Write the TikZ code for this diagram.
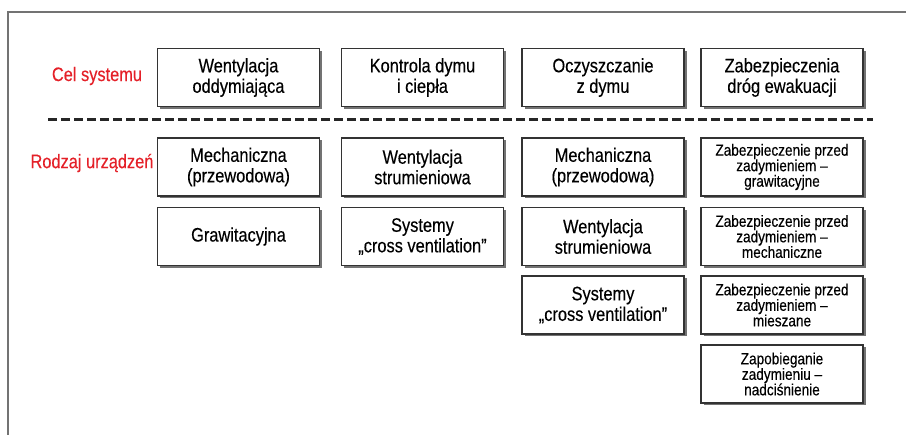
\documentclass[tikz,border=0pt]{standalone}
\usepackage{fontspec}
\setmainfont{Liberation Sans}[FakeStretch=0.84,FakeBold=0.3]
\usetikzlibrary{shadows}
\definecolor{labelred}{RGB}{228,32,40}
\tikzset{
	box/.style={draw=black!80, line width=1.4pt, fill=white, minimum width=162pt, minimum height=58pt,
		align=center, inner sep=2pt, font=\fontsize{19.5}{20.5}\selectfont,
		drop shadow={shadow xshift=2.5pt, shadow yshift=-2.5pt, fill=black!55, opacity=1}},
	smallbox/.style={box, font=\fontsize{16.2}{15.5}\selectfont},
	rowlabel/.style={text=labelred, font=\fontsize{19.5}{20.5}\selectfont},
	separator/.style={black!85, line width=3pt, dash pattern=on 9pt off 4pt}
}
\begin{document}
\begin{tikzpicture}[x=1pt,y=-1pt]
	\useasboundingbox (0,0) rectangle (906,435);

	\draw[black!55, line width=1.2pt] (8,435) |- (906,12);

	\node[rowlabel] (cel) at (97,76) {Cel systemu};
	\node[box] (went) at (238.5,77.5) {Wentylacja\\oddymiająca};
	\node[box] (kontr) at (422.5,77.5) {Kontrola dymu\\i ciepła};
	\node[box] (oczy) at (603,77.5) {Oczyszczanie\\z dymu};
	\node[box] (zabez) at (782,77.5) {Zabezpieczenia\\dróg ewakuacji};

	\draw[separator] (48,120) -- (873,120);

	\node[rowlabel] (rodzaj) at (92,163) {Rodzaj urządzeń};

	\node[box] (mech1) at (238.5,167) {Mechaniczna\\(przewodowa)};
	\node[box] (graw1) at (238.5,236.5) {Grawitacyjna};

	\node[box] (strum2) at (422.5,167) {Wentylacja\\strumieniowa};
	\node[box] (cross2) at (422.5,236.5) {Systemy\\„cross ventilation”};

	\node[box] (mech3) at (603,167) {Mechaniczna\\(przewodowa)};
	\node[box] (strum3) at (603,236.5) {Wentylacja\\strumieniowa};
	\node[box] (cross3) at (603,305) {Systemy\\„cross ventilation”};

	\node[smallbox] (grawz) at (782,167) {Zabezpieczenie przed\\zadymieniem –\\grawitacyjne};
	\node[smallbox] (mechz) at (782,236.5) {Zabezpieczenie przed\\zadymieniem –\\mechaniczne};
	\node[smallbox] (miesz) at (782,305) {Zabezpieczenie przed\\zadymieniem –\\mieszane};
	\node[smallbox] (nadc) at (782,374) {Zapobieganie\\zadymieniu –\\nadciśnienie};

\end{tikzpicture}
\end{document}
